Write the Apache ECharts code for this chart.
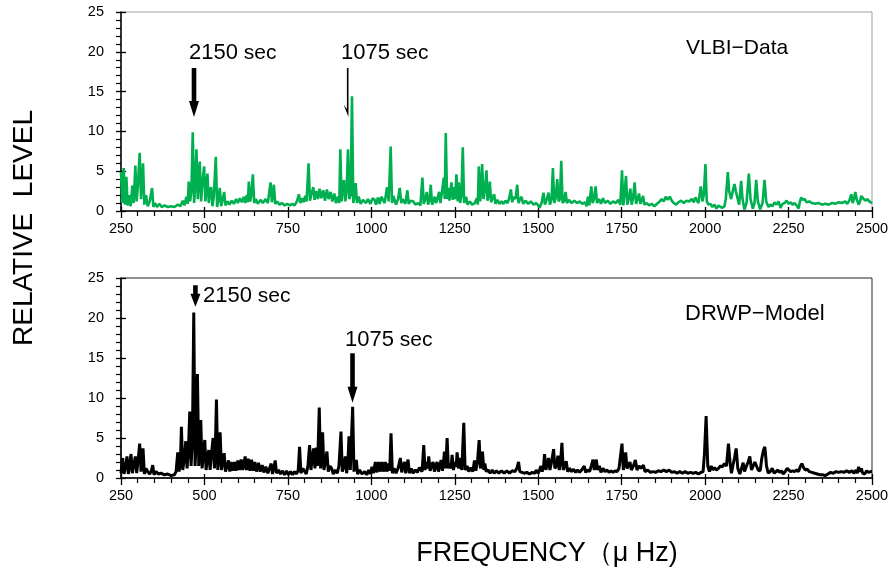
<!DOCTYPE html>
<html><head><meta charset="utf-8">
<script src="https://cdn.jsdelivr.net/npm/echarts@6/dist/echarts.min.js"></script>
<style>html,body{margin:0;padding:0;background:#fff}#c{width:893px;height:573px}</style>
</head><body><div id="c"></div>
<script>
// ---- DATA ----
const xRange = [250, 2500];          // frequency axis, µHz
const yRange = [0, 25];              // relative level
const xTickStep = 250;
const yTickStep = 5;

// VLBI-Data spectrum: [frequency µHz, relative level]
const vlbiSpectrum = [
[250,4.9],[254,1.0],[258,5.4],[262,0.8],[266,4.3],[270,0.7],[275,2.0],[279,0.6],[284,3.2],[288,1.0],
[293,5.7],[297,1.2],[301,3.5],[306,7.3],[310,1.5],[316,6.0],[320,0.8],[325,2.0],[330,0.6],[336,1.2],
[343,2.9],[347,0.5],[352,1.0],[358,0.5],[365,0.9],[372,0.5],[380,0.7],[390,0.5],[400,0.6],[410,0.5],
[420,0.8],[428,0.6],[435,1.3],[440,0.7],[446,1.8],[450,0.9],[453,3.7],[457,1.2],[461,2.5],[465,9.9],
[469,1.0],[472,3.0],[476,7.75],[480,1.5],[483,4.0],[486,6.2],[490,1.2],[494,3.5],[499,5.6],[503,1.2],
[506,3.0],[509,4.7],[513,1.0],[516,2.5],[520,3.0],[524,0.6],[528,1.8],[534,6.8],[538,0.5],[542,1.5],
[546,2.9],[550,0.6],[555,1.5],[559,2.4],[563,0.7],[570,1.2],[575,0.8],[582,1.3],[588,0.9],[595,1.5],
[600,1.0],[606,1.6],[612,1.1],[618,1.8],[622,1.0],[627,2.0],[630,1.1],[633,3.7],[637,1.2],[641,2.2],
[645,4.6],[649,1.0],[654,1.5],[660,0.9],[668,1.4],[675,1.0],[683,1.5],[690,1.0],[698,3.6],[702,1.1],
[708,3.3],[712,0.9],[718,1.2],[725,0.8],[732,1.0],[740,0.7],[748,0.9],[756,0.7],[763,0.9],[770,0.7],
[777,1.2],[783,2.1],[787,1.0],[792,1.6],[797,1.1],[802,1.9],[806,1.2],[812,6.0],[816,1.3],[821,2.2],
[826,3.0],[830,1.4],[835,2.5],[840,1.5],[845,2.8],[850,1.6],[856,2.6],[861,1.3],[867,2.7],[872,1.5],
[878,2.4],[883,1.2],[889,2.2],[894,1.0],[900,1.8],[904,1.0],[907,7.75],[911,1.2],[915,3.0],[918,3.9],
[922,1.2],[926,2.5],[930,7.75],[934,1.5],[938,2.0],[942,14.4],[946,1.0],[950,2.0],[953,3.5],[957,1.0],
[962,1.8],[968,0.9],[975,1.4],[984,1.0],[990,1.5],[997,0.9],[1004,1.6],[1010,1.4],[1014,0.8],[1020,1.7],
[1025,0.9],[1030,1.8],[1035,1.9],[1040,1.0],[1047,3.0],[1052,1.2],[1058,8.1],[1062,1.0],[1066,1.9],[1070,1.8],
[1074,0.8],[1080,1.5],[1085,2.9],[1090,1.0],[1094,1.5],[1098,1.6],[1102,0.9],[1108,2.6],[1112,0.9],[1118,1.3],
[1126,1.2],[1132,0.8],[1140,1.0],[1147,0.7],[1153,4.2],[1157,0.9],[1162,1.5],[1166,2.4],[1170,0.8],[1174,1.3],
[1178,3.3],[1182,0.8],[1186,1.2],[1190,1.8],[1194,1.0],[1198,1.5],[1203,2.4],[1207,1.0],[1212,2.5],[1217,4.2],
[1220,1.5],[1223,9.8],[1227,1.5],[1230,2.9],[1234,1.3],[1240,3.6],[1244,1.4],[1248,3.0],[1251,1.5],[1255,4.6],
[1259,1.2],[1262,3.6],[1266,1.0],[1270,2.0],[1274,8.0],[1278,1.0],[1281,1.5],[1284,1.8],[1288,0.8],[1295,1.2],
[1302,0.8],[1310,1.0],[1316,1.6],[1319,0.8],[1322,5.6],[1326,1.2],[1329,2.5],[1332,5.9],[1336,1.5],[1340,2.5],
[1345,5.1],[1348,1.3],[1352,2.0],[1355,3.7],[1359,1.1],[1363,1.6],[1368,2.1],[1372,0.9],[1378,1.4],[1384,0.9],
[1390,1.2],[1396,0.9],[1402,1.3],[1408,1.0],[1413,1.6],[1418,2.7],[1422,1.1],[1427,1.8],[1432,1.5],[1437,3.3],
[1441,1.0],[1446,1.5],[1450,1.8],[1455,0.9],[1462,1.3],[1470,0.9],[1478,1.2],[1486,0.8],[1494,1.0],[1500,0.7],
[1504,0.4],[1510,1.0],[1516,2.3],[1520,0.8],[1526,1.5],[1531,2.3],[1535,0.8],[1540,1.5],[1544,5.4],[1548,1.0],
[1552,1.6],[1557,4.0],[1561,1.2],[1565,1.5],[1569,6.3],[1573,1.0],[1578,1.3],[1582,2.4],[1586,1.0],[1592,1.4],
[1600,1.0],[1608,1.3],[1616,1.0],[1624,1.2],[1632,0.9],[1640,1.1],[1645,0.6],[1649,1.8],[1653,0.7],[1659,3.1],
[1663,1.0],[1667,1.5],[1672,3.1],[1676,1.0],[1682,1.5],[1688,0.9],[1694,1.6],[1700,1.0],[1708,1.3],[1716,0.9],
[1724,1.2],[1732,1.0],[1740,1.4],[1746,0.8],[1751,5.1],[1755,0.7],[1758,1.8],[1763,4.4],[1767,0.8],[1771,1.5],
[1776,2.8],[1780,0.8],[1784,1.6],[1789,3.6],[1793,0.9],[1797,1.4],[1802,2.2],[1806,0.9],[1810,1.3],[1814,1.9],
[1818,0.8],[1825,1.0],[1832,0.7],[1840,0.9],[1848,0.6],[1856,0.9],[1864,1.2],[1870,1.5],[1876,1.2],[1882,1.8],
[1888,1.4],[1894,1.8],[1900,1.3],[1906,1.0],[1913,0.8],[1920,1.1],[1928,1.3],[1936,1.0],[1944,1.3],[1952,1.2],
[1960,1.5],[1966,1.1],[1971,1.7],[1976,1.8],[1980,1.0],[1987,3.1],[1992,1.2],[1996,2.0],[2001,5.9],[2005,1.2],
[2010,0.8],[2016,0.9],[2022,0.5],[2028,0.8],[2034,0.3],[2040,0.7],[2046,0.5],[2052,0.4],[2058,0.6],[2062,1.5],
[2068,4.9],[2072,2.5],[2078,1.5],[2083,2.5],[2088,3.4],[2092,2.5],[2096,1.8],[2102,0.8],[2108,3.8],[2112,1.5],
[2118,0.2],[2124,1.0],[2131,4.7],[2136,1.5],[2143,0.3],[2148,1.0],[2153,3.9],[2158,1.2],[2165,0.2],[2172,1.0],
[2178,3.9],[2183,1.2],[2190,0.5],[2196,0.8],[2202,0.6],[2208,1.1],[2214,0.8],[2220,1.2],[2226,0.4],[2232,0.9],
[2238,1.0],[2244,1.3],[2250,0.9],[2256,1.1],[2262,0.8],[2268,1.0],[2274,0.7],[2280,0.3],[2284,1.2],[2288,1.7],
[2292,1.4],[2298,1.5],[2304,1.1],[2312,1.2],[2320,1.0],[2330,0.9],[2340,1.0],[2350,0.8],[2360,0.9],[2370,0.8],
[2380,1.0],[2390,0.9],[2400,1.1],[2410,1.0],[2420,1.2],[2426,0.9],[2432,1.3],[2438,2.1],[2442,1.0],[2446,1.5],
[2450,2.4],[2454,1.5],[2460,0.8],[2464,1.2],[2468,1.9],[2473,1.6],[2480,1.3],[2486,1.5],[2492,1.2],[2500,1.0]
];

// DRWP-Model spectrum: [frequency µHz, relative level]
const drwpSpectrum = [
[250,0.6],[255,2.5],[259,0.5],[264,1.5],[268,2.7],[272,0.5],[276,1.5],[280,3.0],[284,0.6],[289,1.8],
[293,2.7],[297,0.6],[302,2.5],[306,4.3],[310,0.8],[316,3.7],[320,0.5],[325,1.2],[330,0.8],[336,0.5],
[341,0.9],[345,1.6],[349,0.4],[355,0.8],[362,0.5],[370,0.6],[380,0.4],[390,0.5],[400,0.3],[410,0.4],
[415,0.8],[420,3.2],[424,0.8],[428,2.0],[431,6.4],[435,1.0],[440,2.5],[444,4.6],[448,1.2],[452,3.5],
[456,8.3],[460,1.5],[464,5.0],[468,20.7],[472,1.5],[476,5.5],[479,13.0],[483,1.5],[486,4.0],[489,7.25],
[493,1.2],[497,3.0],[501,4.75],[505,1.0],[509,2.5],[513,3.5],[517,1.0],[521,3.0],[526,5.0],[530,1.2],
[533,4.5],[536,9.8],[540,1.0],[544,3.0],[547,5.7],[551,1.0],[555,2.0],[559,3.1],[563,0.8],[568,1.5],
[572,2.2],[576,0.8],[580,2.0],[585,0.9],[590,2.0],[595,0.9],[600,2.2],[605,1.0],[610,2.3],[615,1.0],
[622,2.7],[626,1.0],[631,2.4],[636,0.9],[641,2.3],[646,0.9],[651,2.0],[656,0.8],[662,1.9],[667,0.8],
[673,1.6],[678,0.7],[684,1.4],[690,0.6],[695,1.2],[700,1.8],[704,0.5],[708,1.2],[712,2.2],[716,0.6],
[722,1.0],[728,0.5],[734,0.9],[740,0.4],[746,0.9],[752,0.4],[758,0.8],[764,0.4],[770,0.8],[776,0.5],
[781,1.0],[785,3.9],[789,0.6],[795,1.2],[800,1.0],[805,0.5],[810,1.5],[815,4.1],[819,1.0],[823,2.5],
[827,3.7],[831,1.2],[835,3.8],[839,1.5],[844,8.8],[848,1.2],[851,3.0],[854,5.7],[858,1.0],[862,2.0],
[867,3.3],[871,0.8],[876,1.5],[881,1.2],[886,0.5],[892,1.0],[898,0.6],[903,1.5],[909,5.8],[913,0.8],
[918,1.5],[922,2.7],[926,0.6],[930,2.0],[933,5.2],[937,1.0],[944,8.9],[948,0.8],[951,1.5],[955,2.25],
[959,0.5],[965,1.0],[972,0.5],[980,0.8],[986,0.4],[992,1.0],[997,0.5],[1002,1.4],[1006,0.6],[1012,2.0],
[1016,0.7],[1022,2.0],[1026,0.8],[1032,2.0],[1036,0.8],[1042,2.0],[1046,0.8],[1052,1.8],[1055,0.9],[1059,5.6],
[1063,0.6],[1068,1.2],[1074,0.6],[1080,1.2],[1087,2.5],[1091,0.7],[1095,1.4],[1099,2.0],[1103,0.6],[1106,1.5],
[1110,2.3],[1114,0.6],[1120,1.2],[1125,0.6],[1132,1.0],[1138,0.7],[1144,1.3],[1148,1.5],[1152,0.8],[1157,4.1],
[1161,1.0],[1165,2.0],[1169,1.2],[1172,2.7],[1176,0.9],[1181,1.6],[1185,2.0],[1189,0.8],[1193,1.5],[1197,2.0],
[1201,0.8],[1205,1.5],[1209,2.25],[1213,0.9],[1216,1.8],[1219,3.3],[1223,1.2],[1227,5.0],[1231,1.2],[1235,1.8],
[1239,1.2],[1242,2.9],[1246,1.0],[1250,2.0],[1254,1.4],[1257,3.2],[1261,1.2],[1264,2.0],[1267,2.5],[1271,1.0],
[1277,6.9],[1281,1.0],[1287,1.5],[1292,0.8],[1298,1.3],[1304,0.8],[1309,2.2],[1313,0.9],[1318,2.0],[1323,4.75],
[1327,1.2],[1330,2.0],[1333,3.3],[1337,1.0],[1340,1.8],[1344,0.8],[1350,1.0],[1356,0.6],[1362,1.0],[1368,0.6],
[1375,0.9],[1382,0.6],[1390,0.9],[1398,0.6],[1406,0.9],[1414,0.6],[1422,0.9],[1430,0.8],[1436,1.2],[1441,2.0],
[1445,0.8],[1450,1.0],[1458,0.6],[1466,0.7],[1474,0.5],[1482,0.7],[1490,0.6],[1494,1.0],[1500,0.6],[1504,1.0],
[1508,1.5],[1512,0.8],[1516,1.5],[1519,3.0],[1523,1.0],[1527,1.8],[1531,2.5],[1535,1.0],[1540,2.0],[1546,3.6],
[1550,1.2],[1555,1.5],[1559,2.8],[1563,1.0],[1567,2.0],[1571,4.4],[1575,1.0],[1580,1.5],[1584,2.1],[1588,0.8],
[1594,1.2],[1600,0.8],[1606,1.1],[1612,0.7],[1618,1.0],[1624,0.7],[1630,1.0],[1634,0.8],[1638,1.5],[1642,0.7],
[1648,1.0],[1654,0.8],[1659,1.5],[1664,2.3],[1668,1.0],[1674,2.3],[1678,1.0],[1683,1.5],[1688,0.7],[1694,1.2],
[1700,0.8],[1706,1.0],[1712,0.7],[1718,0.9],[1724,0.7],[1730,0.9],[1736,0.8],[1742,1.2],[1746,1.0],[1751,4.3],
[1755,1.0],[1759,2.0],[1762,3.2],[1766,1.2],[1770,1.5],[1775,2.0],[1779,1.0],[1785,1.5],[1791,2.25],[1796,1.0],
[1802,1.5],[1808,1.2],[1815,1.6],[1820,0.8],[1828,1.0],[1836,0.7],[1844,0.8],[1852,0.7],[1860,0.9],[1868,0.8],
[1876,1.0],[1884,0.8],[1892,1.0],[1900,0.7],[1908,0.8],[1916,0.6],[1924,0.8],[1932,0.6],[1940,0.8],[1948,0.6],
[1956,0.7],[1964,0.6],[1972,0.7],[1980,0.5],[1988,0.7],[1994,0.8],[1998,3.0],[2003,7.75],[2008,1.5],[2013,0.8],
[2018,1.5],[2023,1.0],[2028,1.3],[2034,1.0],[2040,1.2],[2046,1.5],[2052,1.4],[2058,1.8],[2064,1.5],[2070,4.3],
[2075,1.8],[2079,0.6],[2083,1.5],[2088,2.5],[2093,3.7],[2098,1.2],[2104,0.5],[2109,1.2],[2114,1.9],[2118,0.8],
[2124,1.5],[2129,2.0],[2134,2.7],[2139,1.0],[2144,1.5],[2149,2.0],[2154,2.25],[2159,1.0],[2165,0.9],[2170,2.5],
[2175,3.5],[2179,3.9],[2184,1.5],[2189,0.6],[2195,0.8],[2201,1.2],[2207,0.6],[2212,0.5],[2218,1.0],[2223,0.7],
[2229,0.9],[2234,0.5],[2240,0.8],[2246,1.2],[2250,1.0],[2256,0.8],[2262,0.9],[2268,0.8],[2274,1.0],[2280,0.8],
[2285,1.4],[2290,1.8],[2295,1.3],[2300,1.0],[2306,1.1],[2312,0.8],[2320,0.7],[2328,0.6],[2336,0.5],[2344,0.4],
[2352,0.4],[2360,0.3],[2368,0.5],[2376,0.7],[2384,0.6],[2392,0.8],[2400,0.7],[2408,0.8],[2416,0.7],[2424,0.9],
[2432,0.7],[2440,0.9],[2446,0.6],[2452,1.0],[2456,0.6],[2460,1.4],[2464,0.8],[2468,1.2],[2472,0.6],[2478,0.5],
[2484,0.9],[2490,0.7],[2496,0.8],[2500,0.8]
];

// arrow annotations in data space: [grid, frequency, level from, level to]
const arrows = [
  {grid:0, f:468.7, from:17.96, to:11.8, thick:true},
  {grid:0, f:929.2, from:17.96, to:11.8, thick:false},
  {grid:1, f:473.0, from:24.1, to:21.4, thick:true},
  {grid:1, f:943.6, from:15.6, to:9.4, thick:true}
];

// ---- CHART ----
const FONT = '"Liberation Sans", Arial, sans-serif';
const chart = echarts.init(document.getElementById('c'), null, {renderer:'canvas'});
const plainNum = v => String(v);

function mainX(gi){
  return {gridIndex:gi, type:'value', min:xRange[0], max:xRange[1], interval:xTickStep,
    axisLine:{show:true, onZero:false, lineStyle:{color:'#000', width:1.5}},
    axisTick:{show:true, inside:false, length:7, lineStyle:{color:'#000', width:1.3}},
    minorTick:{show:true, splitNumber:5, length:5, lineStyle:{color:'#000', width:1.2}},
    axisLabel:{color:'#000', fontSize:14.5, fontFamily:FONT, margin:10, formatter:plainNum},
    splitLine:{show:false}, minorSplitLine:{show:false}};
}
function innerX(gi){
  return {gridIndex:gi, type:'value', min:xRange[0], max:xRange[1], interval:xTickStep, position:'bottom',
    axisLine:{show:false, onZero:false},
    axisTick:{show:true, inside:true, length:4, lineStyle:{color:'#000', width:1.3}},
    axisLabel:{show:false}, splitLine:{show:false}};
}
function mainY(gi){
  return {gridIndex:gi, type:'value', min:yRange[0], max:yRange[1], interval:yTickStep,
    axisLine:{show:true, onZero:false, lineStyle:{color:'#000', width:1.5}},
    axisTick:{show:true, inside:false, length:5, lineStyle:{color:'#000', width:1.3}},
    minorTick:{show:true, splitNumber:5, length:5, lineStyle:{color:'#000', width:1.2}},
    axisLabel:{color:'#000', fontSize:14.5, fontFamily:FONT, margin:17, formatter:plainNum},
    splitLine:{show:false}, minorSplitLine:{show:false}};
}
function innerY(gi){
  return {gridIndex:gi, type:'value', min:yRange[0], max:yRange[1], interval:yTickStep, position:'left',
    axisLine:{show:false, onZero:false},
    axisTick:{show:true, inside:true, length:5, lineStyle:{color:'#000', width:1.3}},
    axisLabel:{show:false}, splitLine:{show:false}};
}

const option = {
  animation:false,
  backgroundColor:'#fff',
  grid:[
    {left:121, top:12, width:751, height:199, show:true, borderColor:'#a0a0a0', borderWidth:1, backgroundColor:'transparent'},
    {left:121, top:278, width:751, height:200, show:true, borderColor:'#222', borderWidth:1, backgroundColor:'transparent'}
  ],
  xAxis:[mainX(0), mainX(1), innerX(0), innerX(1)],
  yAxis:[mainY(0), mainY(1), innerY(0), innerY(1)],
  series:[
    {name:'VLBI-Data', type:'line', xAxisIndex:0, yAxisIndex:0, data:vlbiSpectrum, showSymbol:false,
     lineStyle:{color:'#00b050', width:2.6}, itemStyle:{color:'#00b050'}, z:3},
    {name:'DRWP-Model', type:'line', xAxisIndex:1, yAxisIndex:1, data:drwpSpectrum, showSymbol:false,
     lineStyle:{color:'#000', width:3}, itemStyle:{color:'#000'}, z:3}
  ]
};
chart.setOption(option);

// annotations
const graphics = [];
function richLabel(x, y, num){
  return {type:'text', x:x, y:y, z:100, style:{
    text:'{a|'+num+'}{b| sec}', fill:'#000', verticalAlign:'middle',
    rich:{a:{fontSize:22, fontFamily:FONT, fill:'#000'}, b:{fontSize:21, fontFamily:FONT, fill:'#000'}}}};
}
graphics.push(richLabel(189, 53, '2150'));
graphics.push(richLabel(341, 53, '1075'));
graphics.push(richLabel(203, 296, '2150'));
graphics.push(richLabel(345, 340, '1075'));
graphics.push({type:'text', x:686, y:48, z:100, style:{text:'VLBI\u2212Data', fill:'#000', font:'21px '+FONT, verticalAlign:'middle'}});
graphics.push({type:'text', x:685, y:314, z:100, style:{text:'DRWP\u2212Model', fill:'#000', font:'22px '+FONT, verticalAlign:'middle'}});
graphics.push({type:'text', x:24, y:228, rotation:Math.PI/2, z:100, style:{text:'RELATIVE  LEVEL', fill:'#000', font:'28px '+FONT, align:'center', verticalAlign:'middle'}});
graphics.push({type:'text', x:547, y:554, z:100, style:{text:'FREQUENCY\uff08\u03bc Hz)', fill:'#000', font:'27px '+FONT, align:'center', verticalAlign:'middle'}});

arrows.forEach(a => {
  const p0 = chart.convertToPixel({gridIndex:a.grid}, [a.f, a.from]);
  const p1 = chart.convertToPixel({gridIndex:a.grid}, [a.f, a.to]);
  const x = p0[0], y0 = p0[1], y1 = p1[1];
  let pts;
  if (a.thick) {
    const s = 2.3, hw = 5, hl = Math.min(16, (y1-y0)*0.6);
    pts = [[x-s,y0],[x+s,y0],[x+s,y1-hl],[x+hw,y1-hl],[x,y1],[x-hw,y1-hl],[x-s,y1-hl]];
  } else {
    pts = [[x-0.8,y0],[x+0.8,y0],[x+0.8,y1],[x-4,y1-12],[x-0.8,y1-8]];
  }
  graphics.push({type:'polygon', z:100, shape:{points:pts}, style:{fill:'#000'}});
});
chart.setOption({graphic:graphics});
</script>
</body></html>
